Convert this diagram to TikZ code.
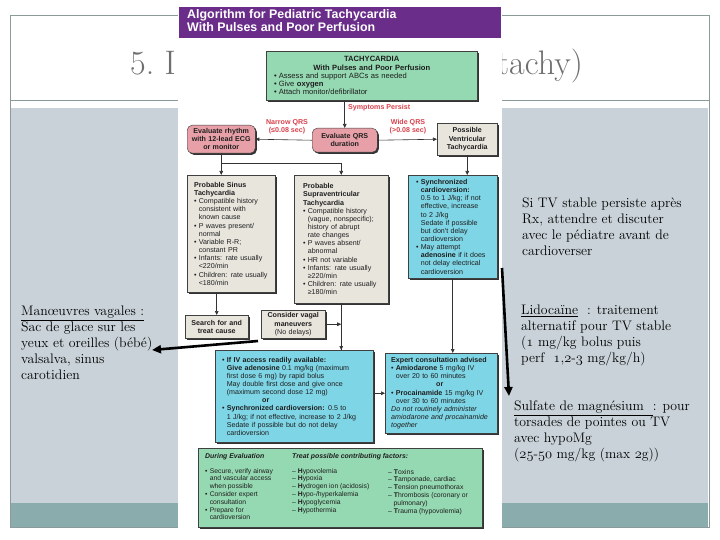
\documentclass[tikz,border=0pt]{standalone}
\usepackage{fontspec}
\newfontfamily\hv{Liberation Sans}
\usetikzlibrary{shadows,arrows.meta}
\definecolor{slidegray}{HTML}{C8D2D8}
\definecolor{slideteal}{HTML}{8AACAC}
\definecolor{framegray}{HTML}{8C9A9A}
\definecolor{titlegray}{HTML}{6E6E6E}
\definecolor{hdrpurple}{HTML}{6B2D8A}
\definecolor{boxgreen}{HTML}{95D9B2}
\definecolor{boxpink}{HTML}{E8A0A8}
\definecolor{boxbeige}{HTML}{E8E5DD}
\definecolor{boxcyan}{HTML}{7ED5E5}
\definecolor{labelred}{HTML}{D8424C}
\definecolor{boxtext}{HTML}{1E1E1E}
\newcommand\bl{\makebox[4.6pt][l]{\textbullet}}
\newcommand\ind{\hspace*{4.6pt}}
\newcommand\osn[1]{{\usefont{OML}{lmm}{m}{it}#1}}
\begin{document}
\begin{tikzpicture}[x=1pt,y=-1pt,
  fc/.style={draw=black!75, line width=0.45pt, text=boxtext, inner sep=0pt,
    font=\hv\fontsize{7.1}{8.15}\selectfont, align=left, anchor=north west,
    drop shadow={shadow xshift=1.6pt, shadow yshift=-1.6pt, fill=black!80, opacity=1}},
  pinkbox/.style={fc, fill=boxpink, rounded corners=5pt, align=center, font=\hv\bfseries\fontsize{7.1}{8.15}\selectfont},
  beigebox/.style={fc, fill=boxbeige},
  cyanbox/.style={fc, fill=boxcyan},
  txt/.style={inner sep=0pt, text=boxtext, align=left, anchor=north west, font=\hv\fontsize{6.8}{7.8}\selectfont},
  redlabel/.style={inner sep=0pt, text=labelred, align=center, font=\hv\bfseries\fontsize{7.1}{8.15}\selectfont},
  arr/.style={draw=black!80, line width=0.6pt, -{Triangle[length=4pt,width=3.6pt]}},
  ln/.style={draw=black!80, line width=0.6pt},
  slidetxt/.style={inner sep=0pt, anchor=north west, align=left, text=black,
    font=\fontsize{13.8}{16}\selectfont},
  thickarrow/.style={draw=black, line width=2.6pt, -{Triangle[length=9pt,width=8pt]}}
]
\useasboundingbox (0,0) rectangle (720,540);
% slide background
\fill[white] (0,0) rectangle (720,540);
\fill[slidegray] (11,108) rectangle (708,503);
\fill[slideteal] (11,503) rectangle (708,527);
\draw[framegray, line width=0.8pt] (10,15) rectangle (709,527);
\draw[framegray, line width=0.8pt] (10,100) -- (709,100);
% title (partly hidden)
\node[inner sep=0pt, anchor=base west, text=titlegray, font=\fontsize{34}{34}\selectfont] (title1) at (130,75) {5.~I};
\node[inner sep=0pt, anchor=base west, text=titlegray, font=\fontsize{34}{34}\selectfont] (title2) at (497,75) {tachy)};
% scanned algorithm
\fill[white] (178,3) rectangle (502,540);
\fill[hdrpurple] (179,7) rectangle (501,38);
\node[inner sep=0pt, anchor=north west, text=white, align=left, font=\hv\bfseries\fontsize{12.4}{12.8}\selectfont] (hdr) at (187,9.5) {Algorithm for Pediatric Tachycardia\\With Pulses and Poor Perfusion};

\node[fc, fill=boxgreen, minimum width=211, minimum height=49, text width=195, font=\hv\fontsize{7.6}{8.3}\selectfont] (G) at (266,51)
 {{\centering\bfseries TACHYCARDIA\\With Pulses and Poor Perfusion\par}
  \bl Assess and support ABCs as needed\\
  \bl Give \textbf{oxygen}\\
  \bl Attach monitor/defibrillator};

\node[pinkbox, minimum width=65, minimum height=24, text width=63] (qrs) at (312,128) {Evaluate QRS\\duration};
\node[pinkbox, minimum width=68, minimum height=28, text width=66] (rhy) at (187,125) {Evaluate rhythm\\with 12-lead ECG\\or monitor};
\node[beigebox, align=center, font=\hv\bfseries\fontsize{7.1}{8.15}\selectfont, minimum width=60, minimum height=32, text width=58] (vt) at (437,123) {Possible\\Ventricular\\Tachycardia};

\draw[arr] (qrs.north |- G.south) -- (qrs.north);
\node[redlabel, anchor=west] (symp) at (348,108) {Symptoms Persist};
\draw[arr] (qrs.west) -- (rhy.east);
\draw[arr] (qrs.east) -- (vt.west);
\node[redlabel] (narrow) at (287,127) {Narrow QRS\\(≤0.08 sec)};
\node[redlabel] (wide) at (408,127) {Wide QRS\\(>0.08 sec)};

\node[beigebox, minimum width=88, minimum height=117, text width=74] (sinus) at (187,175)
 {\textbf{Probable Sinus}\\
  \textbf{Tachycardia}\\
  \bl Compatible history\\
  \ind consistent with\\
  \ind known cause\\
  \bl P waves present/\\
  \ind normal\\
  \bl Variable R-R;\\
  \ind constant PR\\
  \bl Infants: rate usually\\
  \ind <220/min\\
  \bl Children: rate usually\\
  \ind <180/min};

\node[beigebox, minimum width=94, minimum height=128, text width=76] (svt) at (294,175)
 {\textbf{Probable}\\
  \textbf{Supraventricular}\\
  \textbf{Tachycardia}\\
  \bl Compatible history\\
  \ind (vague, nonspecific);\\
  \ind history of abrupt\\
  \ind rate changes\\
  \bl P waves absent/\\
  \ind abnormal\\
  \bl HR not variable\\
  \bl Infants: rate usually\\
  \ind ≥220/min\\
  \bl Children: rate usually\\
  \ind ≥180/min};

\node[cyanbox, minimum width=89, minimum height=103, text width=73] (cvt) at (408,175)
 {\bl\textbf{Synchronized}\\
  \ind\textbf{cardioversion:}\\
  \ind 0.5 to 1 J/kg; if not\\
  \ind effective, increase\\
  \ind to 2 J/kg\\
  \ind Sedate if possible\\
  \ind but don't delay\\
  \ind cardioversion\\
  \bl May attempt\\
  \ind\textbf{adenosine} if it does\\
  \ind not delay electrical\\
  \ind cardioversion};

\coordinate (split) at (0,163);
\draw[ln] (rhy.south) -- (rhy.south |- split) -- (svt.north |- split);
\draw[arr] (rhy.south |- split) -- (rhy.south |- sinus.north);
\draw[arr] (svt.north |- split) -- (svt.north);
\draw[arr] (vt.south) -- (vt.south |- cvt.north);

\node[beigebox, align=center, font=\hv\bfseries\fontsize{7.1}{8.15}\selectfont, minimum width=63, minimum height=23, text width=61] (search) at (185,315) {Search for and\\treat cause};
\node[beigebox, align=center, minimum width=64, minimum height=28, text width=62] (vagal) at (261,310) {\textbf{Consider vagal}\\\textbf{maneuvers}\\(No delays)};

\node[cyanbox, minimum width=158, minimum height=92, text width=144] (aden) at (215,350)
 {\bl\textbf{If IV access readily available:}\\
  \ind\textbf{Give adenosine} 0.1 mg/kg (maximum\\
  \ind first dose 6 mg) by rapid bolus\\
  \ind May double first dose and give once\\
  \ind (maximum second dose 12 mg)\\
  \hspace*{40pt}\textbf{or}\\
  \bl\textbf{Synchronized cardioversion:} 0.5 to\\
  \ind 1 J/kg; if not effective, increase to 2 J/kg\\
  \ind Sedate if possible but do not delay\\
  \ind cardioversion};

\node[cyanbox, minimum width=112, minimum height=80, text width=100] (expert) at (385,353)
 {\textbf{Expert consultation advised}\\
  \bl\textbf{Amiodarone} 5 mg/kg IV\\
  \ind over 20 to 60 minutes\\
  \hspace*{45pt}\textbf{or}\\
  \bl\textbf{Procainamide} 15 mg/kg IV\\
  \ind over 30 to 60 minutes\\
  \textit{Do not routinely administer}\\
  \textit{amiodarone and procainamide}\\
  \textit{together}};

\draw[arr] (search.north |- sinus.south) -- (search.north);
\draw[ln] (svt.south) -- (svt.south |- aden.north);
\draw[arr] (vagal.east) -- (vagal.east -| svt.south);
\draw[arr] (svt.south |- vagal.east) -- (svt.south |- aden.north);
\draw[arr] (cvt.south) -- (cvt.south |- expert.north);
\draw[arr] (expert.west -| aden.east) -- (expert.west);

% bottom green box
\node[fc, fill=boxgreen, minimum width=284, minimum height=79] (GB) at (198,448) {};
\node[txt, font=\hv\bfseries\itshape\fontsize{6.9}{7.8}\selectfont] (gbh1) at (205,453) {During Evaluation};
\node[txt, font=\hv\bfseries\itshape\fontsize{6.9}{7.8}\selectfont] (gbh2) at (292,453) {Treat possible contributing factors:};
\node[txt] (gbc1) at (205,468)
 {\bl Secure, verify airway\\
  \ind and vascular access\\
  \ind when possible\\
  \bl Consider expert\\
  \ind consultation\\
  \bl Prepare for\\
  \ind cardioversion};
\node[txt] (gbc2) at (292,468)
 {– \textbf{H}ypovolemia\\
  – \textbf{H}ypoxia\\
  – \textbf{H}ydrogen ion (acidosis)\\
  – \textbf{H}ypo-/hyperkalemia\\
  – \textbf{H}ypoglycemia\\
  – \textbf{H}ypothermia};
\node[txt] (gbc3) at (388,469)
 {– \textbf{T}oxins\\
  – \textbf{T}amponade, cardiac\\
  – \textbf{T}ension pneumothorax\\
  – \textbf{T}hrombosis (coronary or\\
  \hspace*{5.5pt}pulmonary)\\
  – \textbf{T}rauma (hypovolemia)};

% slide annotations
\node[slidetxt] (siTV) at (522,198) {Si TV stable persiste après\\Rx, attendre et discuter\\avec le pédiatre avant de\\cardioverser};
\node[slidetxt] (lido) at (521,305) {\underline{Lidocaïne} \ : traitement\\alternatif pour TV stable\\(\osn{1} mg/kg bolus puis\\perf \ \osn{1},\osn{2}-\osn{3} mg/kg/h)};
\node[slidetxt] (sulf) at (514,401) {\underline{Sulfate de magnésium\ \ }: pour\\torsades de pointes ou TV\\avec hypoMg\\(\osn{25}-\osn{50} mg/kg (max \osn{2}g))};
\node[slidetxt] (manoe) at (21,306) {\underline{Manœuvres vagales :}\\Sac de glace sur les\\yeux et oreilles (bébé)\\valsalva, sinus\\carotidien};

\coordinate (a1s) at (258,341);
\coordinate (a1e) at (152,350);
\draw[thickarrow] (a1s) -- (a1e);
\coordinate (a2s) at (502,268);
\coordinate (a2e) at (509,396);
\draw[thickarrow] (a2s) -- (a2e);
\end{tikzpicture}
\end{document}
